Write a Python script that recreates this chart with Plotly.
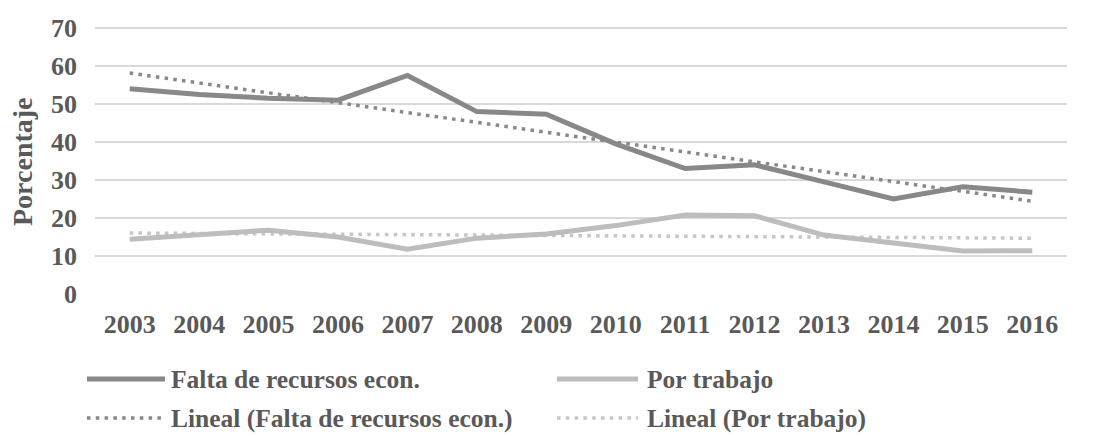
import numpy as np
import plotly.graph_objects as go

years = ['2003', '2004', '2005', '2006', '2007', '2008', '2009',
         '2010', '2011', '2012', '2013', '2014', '2015', '2016']
falta = [54.0, 52.5, 51.5, 51.0, 57.5, 48.0, 47.3, 39.5, 33.0, 34.0, 29.5, 25.0, 28.2, 26.8]
trabajo = [14.4, 15.5, 16.8, 15.0, 11.8, 14.7, 15.8, 18.0, 20.8, 20.6, 15.5, 13.4, 11.3, 11.4]
y_ticks = [0, 10, 20, 30, 40, 50, 60, 70]

names = ['Falta de recursos econ.', 'Por trabajo',
         'Lineal (Falta de recursos econ.)', 'Lineal (Por trabajo)']

# linear trend lines, like the "Lineal" trendline in the spreadsheet
idx = np.arange(len(years))
trend_falta = np.polyval(np.polyfit(idx, falta, 1), idx)
trend_trabajo = np.polyval(np.polyfit(idx, trabajo, 1), idx)

c_falta = '#888888'
c_trab = '#bdbdbd'
c_trab_dot = '#c6c6c6'
txt = '#595959'
font = 'Liberation Serif, Times New Roman, serif'
dotdash = '3.5px,5.3px'
fs = 26
fs_leg = 25.5

W, H = 1093, 436
ml, mr, mt, mb = 95, 26, 26, 142
pw, ph = W - ml - mr, H - mt - mb
# top a little above 70 so the 70 grid line is drawn (70 stays at y=28 px)
y_top = 70 * ph / (ph - 2)

fig = go.Figure()
fig.add_trace(go.Scatter(x=years, y=trend_falta, mode='lines',
                         line=dict(color=c_falta, width=3.5, dash=dotdash)))
fig.add_trace(go.Scatter(x=years, y=trend_trabajo, mode='lines',
                         line=dict(color=c_trab_dot, width=3.5, dash=dotdash)))
fig.add_trace(go.Scatter(x=years, y=falta, mode='lines',
                         line=dict(color=c_falta, width=5)))
fig.add_trace(go.Scatter(x=years, y=trabajo, mode='lines',
                         line=dict(color=c_trab, width=5)))


def px_x(px):
    return (px - ml) / pw


def px_y(py):
    return (H - mb - py) / ph


# hand made legend (long symbols like the original)
legend_items = [
    (names[0], c_falta, 5, 'solid', 87, 165, 170, 379),
    (names[1], c_trab, 5, 'solid', 557, 638, 646, 379),
    (names[2], c_falta, 3.5, dotdash, 87, 165, 170, 418),
    (names[3], c_trab_dot, 3.5, dotdash, 557, 638, 646, 418),
]
for name, col, w, dash, x0, x1, xt, yy in legend_items:
    fig.add_shape(type='line', xref='paper', yref='paper',
                  x0=px_x(x0), x1=px_x(x1), y0=px_y(yy), y1=px_y(yy),
                  line=dict(color=col, width=w, dash=dash))
    fig.add_annotation(text='<b>' + name + '</b>', xref='paper', yref='paper',
                       x=px_x(xt), y=px_y(yy), xanchor='left', yanchor='middle',
                       showarrow=False, borderpad=0,
                       font=dict(size=fs_leg, color=txt, family=font))

fig.add_annotation(text='<b>Porcentaje</b>', xref='paper', yref='paper',
                   x=px_x(22), y=px_y(162), textangle=-90,
                   xanchor='center', yanchor='middle', showarrow=False,
                   font=dict(size=28, color=txt, family=font))

fig.update_layout(
    width=W, height=H,
    margin=dict(l=ml, r=mr, t=mt, b=mb),
    plot_bgcolor='white', paper_bgcolor='white',
    showlegend=False,
    font=dict(family=font, size=fs, color=txt),
    xaxis=dict(showgrid=False, showline=False, zeroline=False,
               range=[-0.5, len(years) - 0.5], automargin=False,
               tickvals=years, ticktext=['<b>%s</b>' % y for y in years],
               tickfont=dict(size=fs, color=txt, family=font),
               ticklabelstandoff=12),
    yaxis=dict(range=[0, y_top], tickvals=y_ticks,
               ticktext=['<b>%d</b>' % v for v in y_ticks],
               showgrid=True, automargin=False,
               gridcolor='#d9d9d9', gridwidth=1.5, zeroline=False,
               showline=False,
               tickfont=dict(size=fs, color=txt, family=font),
               ticklabelstandoff=17),
)

# page margin off so the figure sits at the window corner
fig.write_html("out.html", config={'displayModeBar': False},
               post_script="document.body.style.margin='0';")
